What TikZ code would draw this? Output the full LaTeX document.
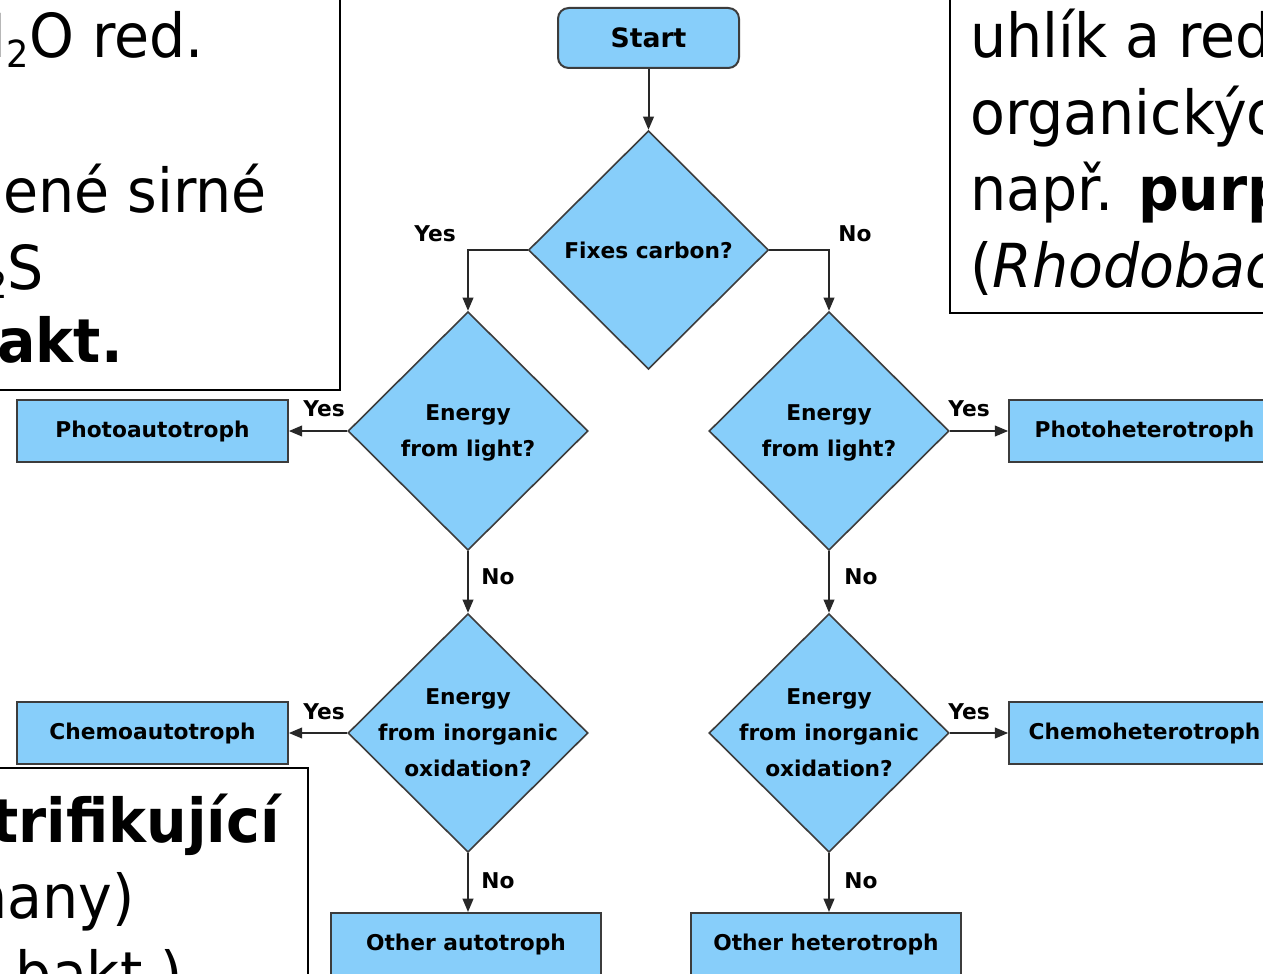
\documentclass[tikz,border=0pt]{standalone}
\usepackage{fontspec}
\usetikzlibrary{shapes.geometric,arrows.meta}
\newfontfamily\fcfont{DejaVu Sans}
\newfontfamily\czfont[FakeStretch=0.94]{DejaVu Sans}
\definecolor{fcblue}{RGB}{135,206,250}
\definecolor{fcedge}{RGB}{60,60,60}
\definecolor{fcline}{RGB}{40,40,40}
\newcommand{\subtwo}{\raisebox{-0.28ex}{\fontsize{28pt}{28pt}\selectfont 2}}
\tikzset{
  x=0.75pt, y=-0.75pt,
  fctext/.style={font=\fcfont\bfseries\fontsize{16.3pt}{27pt}\selectfont, align=center, text=black},
  fcbox/.style={draw=fcedge, line width=1.5pt, fill=fcblue, minimum width=203pt, minimum height=46.5pt, inner sep=0pt, fctext},
  startbox/.style={fcbox, rounded corners=8pt, minimum width=135.75pt, minimum height=45pt, font=\fcfont\bfseries\fontsize{20pt}{24pt}\selectfont},
  dia/.style={diamond, draw=fcedge, line width=1.2pt, fill=fcblue, minimum width=180pt, minimum height=179pt, inner sep=0pt},
  conn/.style={draw=fcline, line width=1.5pt, -{Triangle[length=10pt,width=8pt]}},
  yn/.style={fctext},
  note/.style={draw=black, line width=1.5pt, fill=white},
  cz/.style={font=\czfont\fontsize{45.5pt}{57pt}\selectfont, inner sep=0pt, text=black}
}
\begin{document}
\begin{tikzpicture}
\useasboundingbox (0,0) rectangle (1263,974);
\clip (0,0) rectangle (1263,974);
\fill[white] (0,0) rectangle (1263,974);

% flowchart nodes
\node[startbox] (start) at (648.5,38) {Start};
\node[dia] (d1) at (648.5,250) {};
\node[fctext] (t1) at (d1.center) {Fixes carbon?};
\node[dia] (d2l) at (468,431) {};
\node[fctext] (t2l) at ([yshift=-1.5pt]d2l.center) {Energy\\from light?};
\node[dia] (d2r) at (829,431) {};
\node[fctext] (t2r) at ([yshift=-1.5pt]d2r.center) {Energy\\from light?};
\node[dia] (d3l) at (468,733) {};
\node[fctext] (t3l) at (d3l.center) {Energy\\from inorganic\\oxidation?};
\node[dia] (d3r) at (829,733) {};
\node[fctext] (t3r) at (d3r.center) {Energy\\from inorganic\\oxidation?};
\node[fcbox] (pa) at (152.5,431) {Photoautotroph};
\node[fcbox] (ph) at (1144.5,431) {Photoheterotroph};
\node[fcbox] (ca) at (152.5,733) {Chemoautotroph};
\node[fcbox] (ch) at (1144.5,733) {Chemoheterotroph};
\node[fcbox] (oa) at (466,944) {Other autotroph};
\node[fcbox] (oh) at (826,944) {Other heterotroph};

% connectors
\draw[conn] (start) -- (d1.north);
\draw[conn] (d1.west) -| (d2l.north);
\draw[conn] (d1.east) -| (d2r.north);
\draw[conn] (d2l.west) -- (pa.east);
\draw[conn] (d2r.east) -- (ph.west);
\draw[conn] (d2l.south) -- (d3l.north);
\draw[conn] (d2r.south) -- (d3r.north);
\draw[conn] (d3l.west) -- (ca.east);
\draw[conn] (d3r.east) -- (ch.west);
\draw[conn] (d3l.south) -- (d3l.south |- oa.north);
\draw[conn] (d3r.south) -- (d3r.south |- oh.north);

% yes / no labels
\node[yn] (y1) at (435,234) {Yes};
\node[yn] (n1) at (855,234) {No};
\node[yn] (y2) at (324,409) {Yes};
\node[yn] (y3) at (969,409) {Yes};
\node[yn] (n2) at (498,577) {No};
\node[yn] (n3) at (861,577) {No};
\node[yn] (y4) at (324,712) {Yes};
\node[yn] (y5) at (969,712) {Yes};
\node[yn] (n4) at (498,881) {No};
\node[yn] (n5) at (861,881) {No};

% note boxes
\draw[note] (-20,-20) rectangle (340,390);
\node[cz, anchor=base east] (a1) at (204,58) {H\subtwo O red.};
\node[cz, anchor=base east] (a2) at (267,212) {zelené sirné};
\node[cz, anchor=base east] (a3) at (44,289) {H\subtwo S};
\node[cz, anchor=base east] (a4) at (123,362) {\bfseries bakt.};

\draw[note] (950,-20) rectangle (1290,313);
\node[cz, anchor=base west] (b1) at (970,58) {uhlík a redukční};
\node[cz, anchor=base west] (b2) at (970,134) {organických látek};
\node[cz, anchor=base west] (b3) at (970,210) {např. \textbf{purpurové}};
\node[cz, anchor=base west] (b4) at (970,287) {(\textit{Rhodobacter})};

\draw[note] (-20,768) rectangle (308,1010);
\node[cz, anchor=base east] (c1) at (280,842) {\bfseries nitrifikující};
\node[cz, anchor=base east] (c2) at (135,918) {dusičnany)};
\node[cz, anchor=base east] (c3) at (183,995) {bakt.)};
\end{tikzpicture}
\end{document}
